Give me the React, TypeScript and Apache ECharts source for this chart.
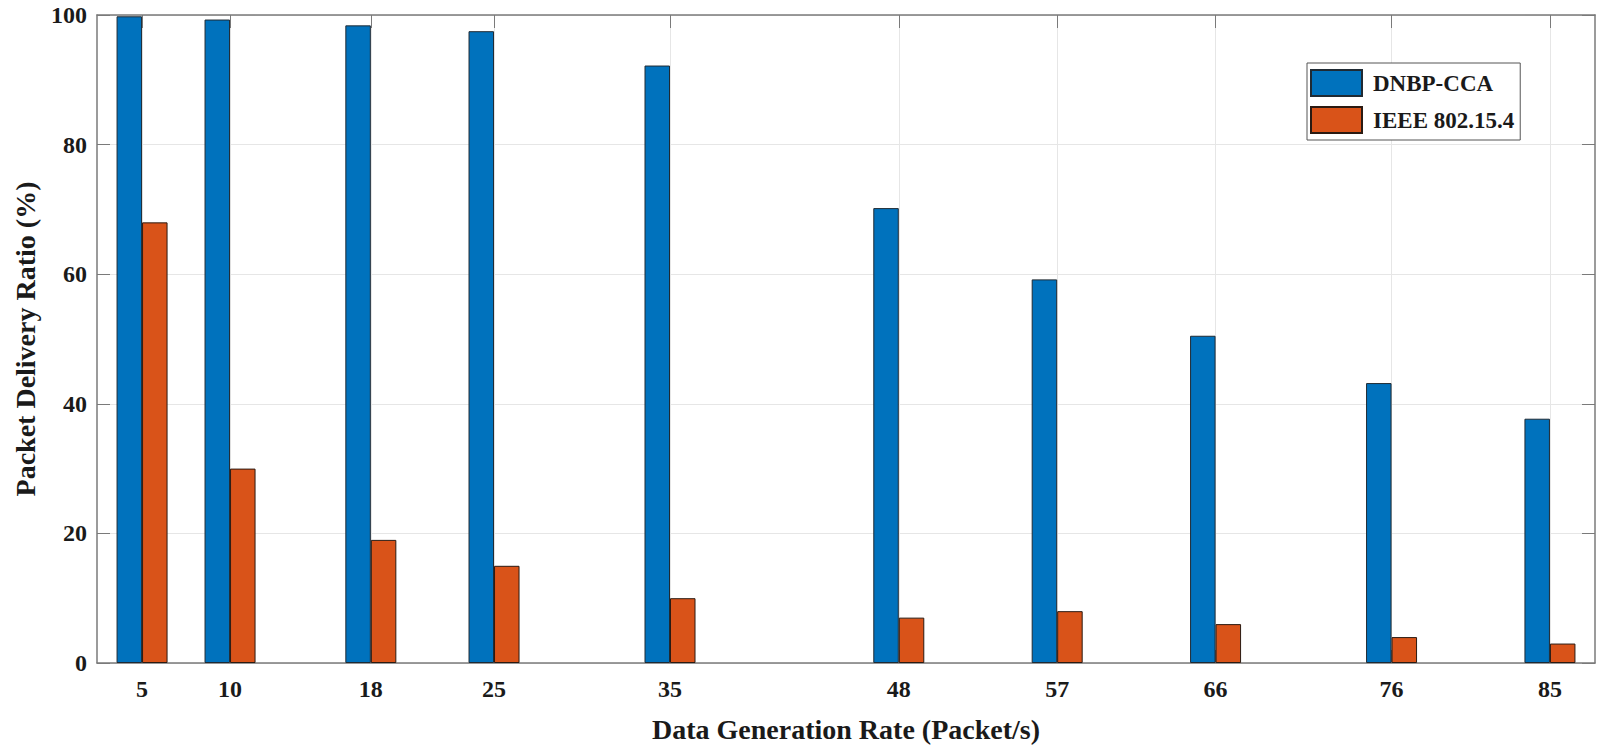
import React, { useEffect, useRef } from "react";
import * as echarts from "echarts";

const xValues = [5, 10, 18, 25, 35, 48, 57, 66, 76, 85];
const dnbpValues = [99.8, 99.3, 98.4, 97.5, 92.2, 70.2, 59.2, 50.5, 43.2, 37.7];
const ieeeValues = [68, 30, 19, 15, 10, 7, 8, 6, 4, 3];
const yTicks = [0, 20, 40, 60, 80, 100];
const seriesNames = ["DNBP-CCA", "IEEE 802.15.4"];

const FONT = "'Liberation Serif', 'Times New Roman', serif";
const AXIS_COLOR = "#7a7a7a";
const GRID_COLOR = "#e6e6e6";

export default function App() {
  const ref = useRef<HTMLDivElement>(null);

  useEffect(() => {
    if (!ref.current) return;
    const chart = echarts.init(ref.current, null, { renderer: "svg" });
    const xMin = 2.44;
    const xMax = 87.56;
    chart.setOption({
      animation: false,
      backgroundColor: "#ffffff",
      grid: { left: 97, right: 5, top: 15, bottom: 84, containLabel: false },
      legend: {
        orient: "vertical",
        left: 1307,
        top: 63,
        padding: [6, 6, 6, 3],
        itemGap: 9,
        itemWidth: 51,
        itemHeight: 26,
        borderColor: "#555",
        borderWidth: 1,
        backgroundColor: "#fff",
        icon: "rect",
        textStyle: {
          fontFamily: FONT,
          fontWeight: "bold",
          fontSize: 23,
          color: "#1a1a1a",
          padding: [0, 0, 0, 6],
        },
        data: seriesNames,
      },
      xAxis: [
        {
          type: "value",
          min: xMin,
          max: xMax,
          name: "Data Generation Rate (Packet/s)",
          nameLocation: "middle",
          nameGap: 52,
          nameTextStyle: { fontFamily: FONT, fontWeight: "bold", fontSize: 28, color: "#1a1a1a" },
          axisLine: { show: true, lineStyle: { color: AXIS_COLOR, width: 1.5 } },
          axisTick: { show: true, inside: true, length: 13, customValues: xValues, lineStyle: { color: AXIS_COLOR } },
          axisLabel: {
            customValues: xValues,
            fontFamily: FONT,
            fontWeight: "bold",
            fontSize: 24,
            color: "#1a1a1a",
            margin: 14,
          },
          splitLine: { show: true, lineStyle: { color: GRID_COLOR, width: 1 } },
        },
        {
          type: "value",
          position: "top",
          min: xMin,
          max: xMax,
          axisLine: { show: true, onZero: false, lineStyle: { color: AXIS_COLOR, width: 1.5 } },
          axisTick: { show: true, inside: true, length: 13, customValues: xValues, lineStyle: { color: AXIS_COLOR } },
          axisLabel: { show: false },
          splitLine: { show: false },
        },
      ],
      yAxis: [
        {
          type: "value",
          min: 0,
          max: 100,
          interval: 20,
          name: "Packet Delivery Ratio (%)",
          nameLocation: "middle",
          nameGap: 58,
          nameTextStyle: { fontFamily: FONT, fontWeight: "bold", fontSize: 28, color: "#1a1a1a" },
          axisLine: { show: true, lineStyle: { color: AXIS_COLOR, width: 1.5 } },
          axisTick: { show: true, inside: true, length: 13, lineStyle: { color: AXIS_COLOR } },
          axisLabel: {
            fontFamily: FONT,
            fontWeight: "bold",
            fontSize: 24,
            color: "#1a1a1a",
            margin: 10,
            customValues: yTicks,
          },
          splitLine: { show: true, lineStyle: { color: GRID_COLOR, width: 1 } },
        },
        {
          type: "value",
          position: "right",
          min: 0,
          max: 100,
          interval: 20,
          axisLine: { show: true, onZero: false, lineStyle: { color: AXIS_COLOR, width: 1.5 } },
          axisTick: { show: true, inside: true, length: 13, lineStyle: { color: AXIS_COLOR } },
          axisLabel: { show: false },
          splitLine: { show: false },
        },
      ],
      series: [
        {
          name: seriesNames[0],
          type: "bar",
          xAxisIndex: 0,
          yAxisIndex: 0,
          barWidth: 25.5,
          barGap: "0%",
          itemStyle: { color: "#0072BD", borderColor: "#1f2a33", borderWidth: 1 },
          data: xValues.map((x, i) => [x, dnbpValues[i]]),
        },
        {
          name: seriesNames[1],
          type: "bar",
          xAxisIndex: 0,
          yAxisIndex: 0,
          barWidth: 25.5,
          barGap: "0%",
          itemStyle: { color: "#D95319", borderColor: "#2a1a12", borderWidth: 1 },
          data: xValues.map((x, i) => [x, ieeeValues[i]]),
        },
      ],
    });
    return () => chart.dispose();
  }, []);

  return (
    <div
      ref={ref}
      style={{ position: "fixed", left: 0, top: 0, width: 1600, height: 748, background: "#fff" }}
    />
  );
}
